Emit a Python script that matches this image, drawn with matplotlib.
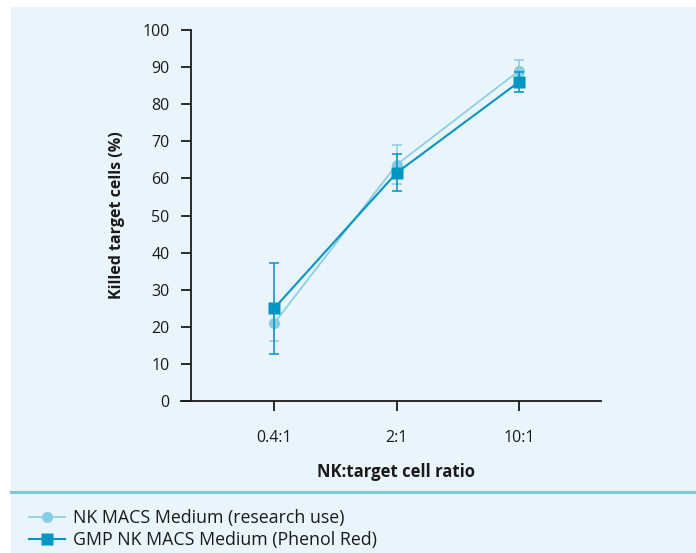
import matplotlib.pyplot as plt
from matplotlib.lines import Line2D
from matplotlib.patches import Rectangle

plt.rcParams['font.family'] = ['Open Sans', 'DejaVu Sans']

# Daten
ratios = ['0.4:1', '2:1', '10:1']
research = [21, 63.7, 89]
research_err = [4.8, 5.2, 3]
gmp = [25, 61.5, 86]
gmp_err = [12.3, 5, 2.6]
names = ['NK MACS Medium (research use)', 'GMP NK MACS Medium (Phenol Red)']

light = '#86cde2'
dark = '#0096c3'
bg = '#eaf4fb'

W, H = 696, 553
fig = plt.figure(figsize=(W / 100, H / 100), dpi=100)
fig.patch.set_facecolor('white')

# Hintergrundfeld
fig.patches.append(Rectangle((11 / W, 0), 1, 1 - 7 / H, transform=fig.transFigure,
                             facecolor=bg, edgecolor='none', zorder=-2))
fig.add_artist(Line2D([11 / W, 1], [1 - 492 / H, 1 - 492 / H], transform=fig.transFigure,
                      color='#7fc6da', lw=2.2, zorder=-1))

ax = fig.add_axes([191 / W, 1 - 401 / H, (601 - 191) / W, (401 - 30) / H])
ax.set_facecolor('none')

x = list(range(1, len(ratios) + 1))

ax.errorbar(x, research, yerr=research_err, fmt='none', ecolor=light, elinewidth=1.1,
            capsize=3.9, capthick=1.1, zorder=2)
l1, = ax.plot(x, research, color=light, lw=1.2, marker='o', ms=8, mec='none', zorder=3)
ax.errorbar(x, gmp, yerr=gmp_err, fmt='none', ecolor=dark, elinewidth=1.1,
            capsize=3.9, capthick=1.1, zorder=4)
l2, = ax.plot(x, gmp, color=dark, lw=1.5, marker='s', ms=8.2, mec='none', zorder=5)

ax.set_xlim(0.32, 3.67)
ax.set_ylim(0, 100)
ax.set_yticks(range(0, 101, 10))
ax.set_xticks(x)
ax.set_xticklabels(ratios)

for s in ['top', 'right']:
    ax.spines[s].set_visible(False)
for s in ['left', 'bottom']:
    ax.spines[s].set_linewidth(1.3)
    ax.spines[s].set_color('#1a1a1a')
ax.spines['bottom'].set_bounds(0.32 - 10 / 122.5, 3.67)

ax.tick_params(direction='out', length=7, width=1.3, color='#1a1a1a',
               labelsize=11.5, labelcolor='#1a1a1a')
ax.tick_params(axis='y', pad=8.5)
ax.tick_params(axis='x', pad=14)

ax.set_ylabel('Killed target cells (%)', fontsize=11.5, fontweight='bold', color='#1a1a1a', labelpad=12)
ax.set_xlabel('NK:target cell ratio', fontsize=12, fontweight='bold', color='#1a1a1a', labelpad=12)

fig.legend([l1, l2], names, loc='upper left', bbox_to_anchor=(22 / W, 1 - 502 / H),
           frameon=False, fontsize=12.8, handlelength=2.0, handletextpad=0.45,
           labelspacing=0.22, borderaxespad=0, labelcolor='#1a1a1a')

fig.savefig('out.png', dpi=100)
